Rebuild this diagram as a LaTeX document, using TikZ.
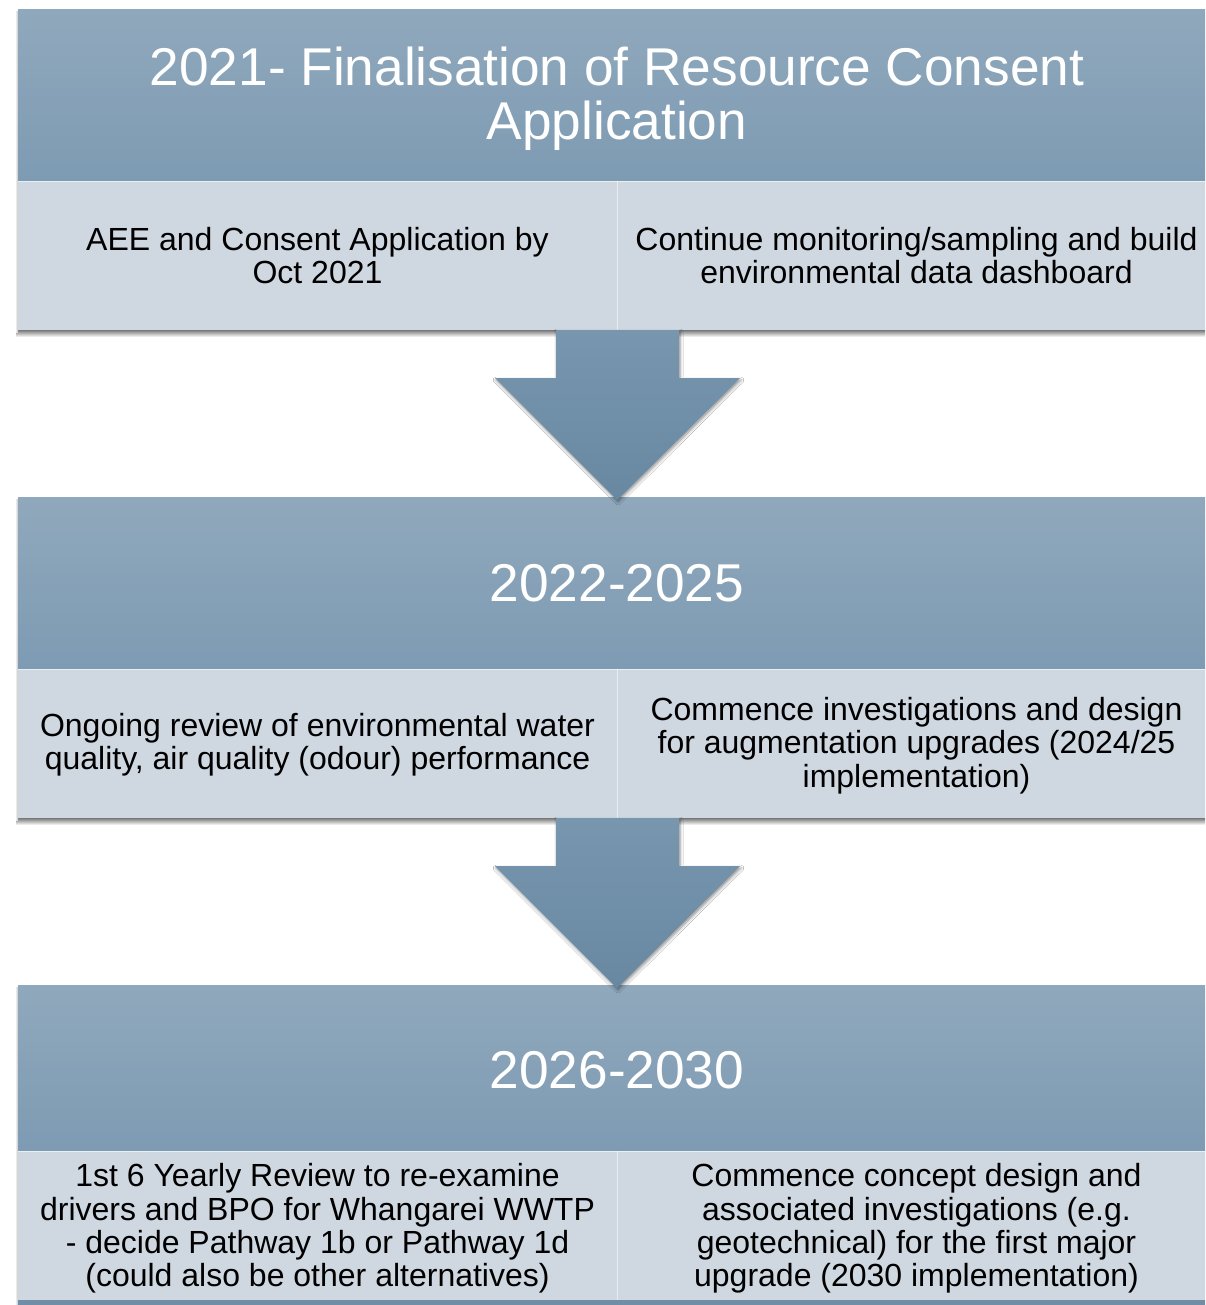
\documentclass[tikz,border=0pt]{standalone}
\usepackage{fontspec}
\setmainfont{Liberation Sans}
\usetikzlibrary{shadows.blur}
\definecolor{hdtop}{RGB}{144,168,188}
\definecolor{hdbot}{RGB}{125,155,179}
\definecolor{bodyc}{RGB}{207,215,224}
\definecolor{arrtop}{RGB}{120,150,174}
\definecolor{arrbot}{RGB}{104,136,162}
\definecolor{stripc}{RGB}{114,142,167}
\definecolor{shadc}{RGB}{120,120,120}
\tikzset{
  header/.style={rectangle, inner sep=0pt, minimum width=1198pt, top color=hdtop, bottom color=hdbot, text=white, align=center, font=\fontsize{53.2}{54.5}\selectfont},
  bodycell/.style={rectangle, inner sep=0pt, minimum width=599pt, minimum height=149pt, fill=bodyc, text=black, align=center, font=\fontsize{32}{33.3}\selectfont},
  bottomshadow/.style={top color=shadc, bottom color=white},
  leftshadow/.style={left color=white, right color=black!25},
  downarrow/.style={top color=arrtop, bottom color=arrbot, blur shadow={shadow xshift=1pt, shadow yshift=-2pt, shadow blur radius=3pt, shadow opacity=45}},
  divider/.style={white, opacity=0.5, line width=1pt}
}
\begin{document}
\begin{tikzpicture}[x=1pt,y=-1pt]
\useasboundingbox (0,0) rectangle (1205,1305);
\clip (0,0) rectangle (1205,1305);
\fill[white] (0,0) rectangle (1205,1305);

% band shadows
\shade[bottomshadow] (16,330) rectangle (1216,337);
\shade[leftshadow] (15,12) rectangle (18,332);
\shade[bottomshadow] (16,818) rectangle (1216,825);
\shade[leftshadow] (15,499) rectangle (18,820);
\shade[leftshadow] (15,987) rectangle (18,1305);

% band 1
\node[header, minimum height=171pt] (h1) at (617,95.5) {};
\node[text=white, align=center, font=\fontsize{53.2}{54.5}\selectfont] (t1) at (617,98.5) {2021- Finalisation of Resource Consent\\Application};
\node[bodycell] (b1l) at (317.5,255.5) {AEE and Consent Application by\\Oct 2021};
\node[bodycell] (b1r) at (916.5,255.5) {Continue monitoring/sampling and build\\environmental data dashboard};
\draw[divider] (b1l.north east) -- (b1l.south east);
\draw[white, opacity=0.6, line width=1pt] (h1.south west) -- (h1.south east);

% band 2
\node[header, minimum height=172pt] (h2) at (617,583) {2022-2025};
\node[bodycell] (b2l) at (317.5,743.5) {};
\node[bodycell] (b2r) at (916.5,743.5) {};
\node[align=center, font=\fontsize{32}{33.3}\selectfont] (t2l) at (317.5,745) {Ongoing review of environmental water\\quality, air quality (odour) performance};
\node[align=center, font=\fontsize{32}{33.3}\selectfont] (t2r) at (916.5,745.5) {Commence investigations and design\\for augmentation upgrades (2024/25\\implementation)};
\draw[divider] (b2l.north east) -- (b2l.south east);
\draw[white, opacity=0.6, line width=1pt] (h2.south west) -- (h2.south east);

% band 3
\node[header, minimum height=166pt] (h3) at (617,1068) {};
\node[text=white, font=\fontsize{53.2}{54.5}\selectfont] (t3) at (617,1070) {2026-2030};
\node[bodycell] (b3l) at (317.5,1225.5) {};
\node[bodycell] (b3r) at (916.5,1225.5) {};
\node[align=center, font=\fontsize{32}{33.3}\selectfont] (t3l) at (317.5,1228.5) {1st 6 Yearly Review to re-examine\\drivers and BPO for Whangarei WWTP\\- decide Pathway 1b or Pathway 1d\\(could also be other alternatives)};
\node[align=center, font=\fontsize{32}{33.3}\selectfont] (t3r) at (916.5,1228.5) {Commence concept design and\\associated investigations (e.g.\\geotechnical) for the first major\\upgrade (2030 implementation)};
\draw[divider] (b3l.north east) -- (b3l.south east);
\draw[white, opacity=0.6, line width=1pt] (h3.south west) -- (h3.south east);

\fill[stripc] (18,1300) rectangle (1216,1310);

% arrows
\path[downarrow] (556,330) -- (679,330) -- (679,378) -- (740,378) -- (617,500) -- (495,378) -- (556,378) -- cycle;
\path[downarrow] (556,818) -- (679,818) -- (679,866) -- (740,866) -- (617,988) -- (495,866) -- (556,866) -- cycle;
\end{tikzpicture}
\end{document}
